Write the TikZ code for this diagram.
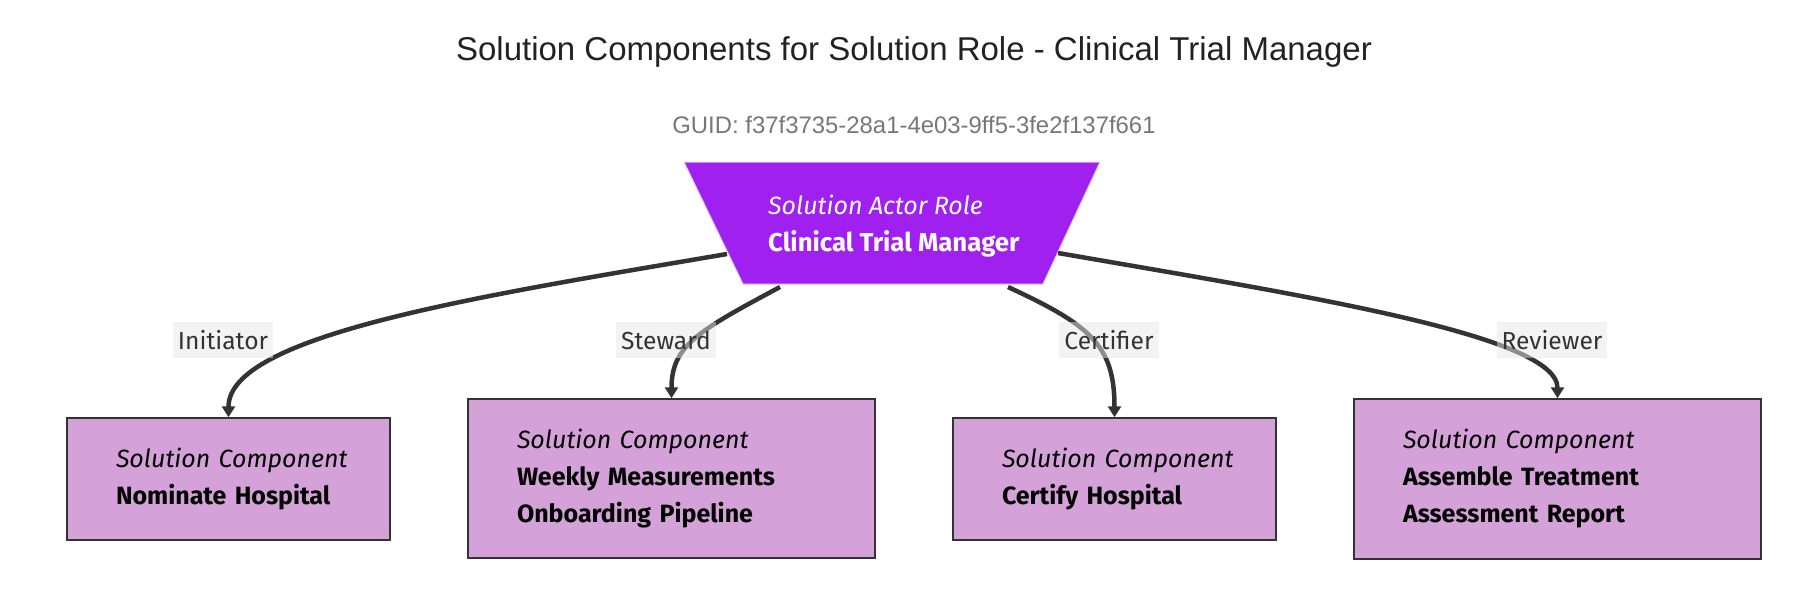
\documentclass[tikz,border=0pt]{standalone}
\usepackage{fontspec}
\setmainfont{Fira Sans}
\newfontfamily\titlefont{Liberation Sans}
\usetikzlibrary{arrows.meta}
\definecolor{rolefill}{HTML}{A020F0}
\definecolor{roleline}{HTML}{DDD0EE}
\definecolor{compfill}{RGB}{212,162,216}
\definecolor{edgecol}{HTML}{333333}
\definecolor{titlecol}{HTML}{222222}
\definecolor{lblbg}{HTML}{E8E8E8}
\definecolor{guidcol}{HTML}{777777}
\begin{document}
\begin{tikzpicture}[x=1pt,y=-1pt,
  comp/.style={draw=edgecol, line width=1.5pt, fill=compfill, inner xsep=49pt, inner ysep=0pt,
    align=left, font=\fontsize{25}{37}\selectfont, text=black},
  edge/.style={draw=edgecol, line width=4.5pt, -{Triangle[length=11pt,width=13pt]}},
  lbl/.style={fill=lblbg, fill opacity=0.5, text opacity=1, text=edgecol, inner xsep=5pt,
    minimum height=36pt, font=\fontsize{24.6}{28}\selectfont},
]
\useasboundingbox (0,0) rectangle (1818,592);

% title and GUID
\node[font=\titlefont\fontsize{33}{38}\selectfont, text=titlecol] (title) at (914,52) {Solution Components for Solution Role - Clinical Trial Manager};
\node[font=\titlefont\fontsize{23.9}{28}\selectfont, text=guidcol] (guid) at (914,125) {GUID: f37f3735-28a1-4e03-9ff5-3fe2f137f661};

% role (inverted trapezoid)
\path[fill=rolefill, draw=roleline, line width=1pt] (684,162) -- (1100,162) -- (1043,284) -- (743,284) -- cycle;
\node[anchor=west, inner sep=0pt, align=left, text=white, font=\fontsize{25}{37}\selectfont] (role) at (768,226)
  {\mbox{\itshape Solution Actor Role}\\\mbox{\fontsize{25.8}{37}\selectfont\bfseries Clinical Trial Manager}};
\coordinate (rL) at (727,254);
\coordinate (rSL) at (780,287);
\coordinate (rSR) at (1008,287);
\coordinate (rR) at (1058,253);

% components
\node[comp, text width=225pt, minimum height=122pt] (c1) at (228.5,479)
  {\mbox{\itshape Solution Component}\\\mbox{\bfseries Nominate Hospital}};
\node[comp, text width=309pt, minimum height=159pt] (c2) at (671.5,478.5)
  {\mbox{\itshape Solution Component}\\\mbox{\bfseries Weekly Measurements}\\\mbox{\bfseries Onboarding Pipeline}};
\node[comp, text width=225pt, minimum height=122pt] (c3) at (1114.5,479)
  {\mbox{\itshape Solution Component}\\\mbox{\bfseries Certify Hospital}};
\node[comp, text width=309pt, minimum height=160pt] (c4) at (1557.5,479)
  {\mbox{\itshape Solution Component}\\\mbox{\bfseries Assemble Treatment}\\\mbox{\bfseries Assessment Report}};

% connectors
\draw[edge] (rL) .. controls (480,296) and (228.5,335) .. (c1.north);
\draw[edge] (rSL) .. controls (700,330) and (671.5,345) .. (c2.north);
\draw[edge] (rSR) .. controls (1090,325) and (1114.5,345) .. (c3.north);
\draw[edge] (rR) .. controls (1300,295) and (1557.5,335) .. (c4.north);

% labels
\node[lbl] (l1) at (223,340) {Initiator};
\node[lbl] (l2) at (666,340) {Steward};
\node[lbl] (l3) at (1109,340) {Certifier};
\node[lbl] (l4) at (1552,340) {Reviewer};
\end{tikzpicture}
\end{document}
